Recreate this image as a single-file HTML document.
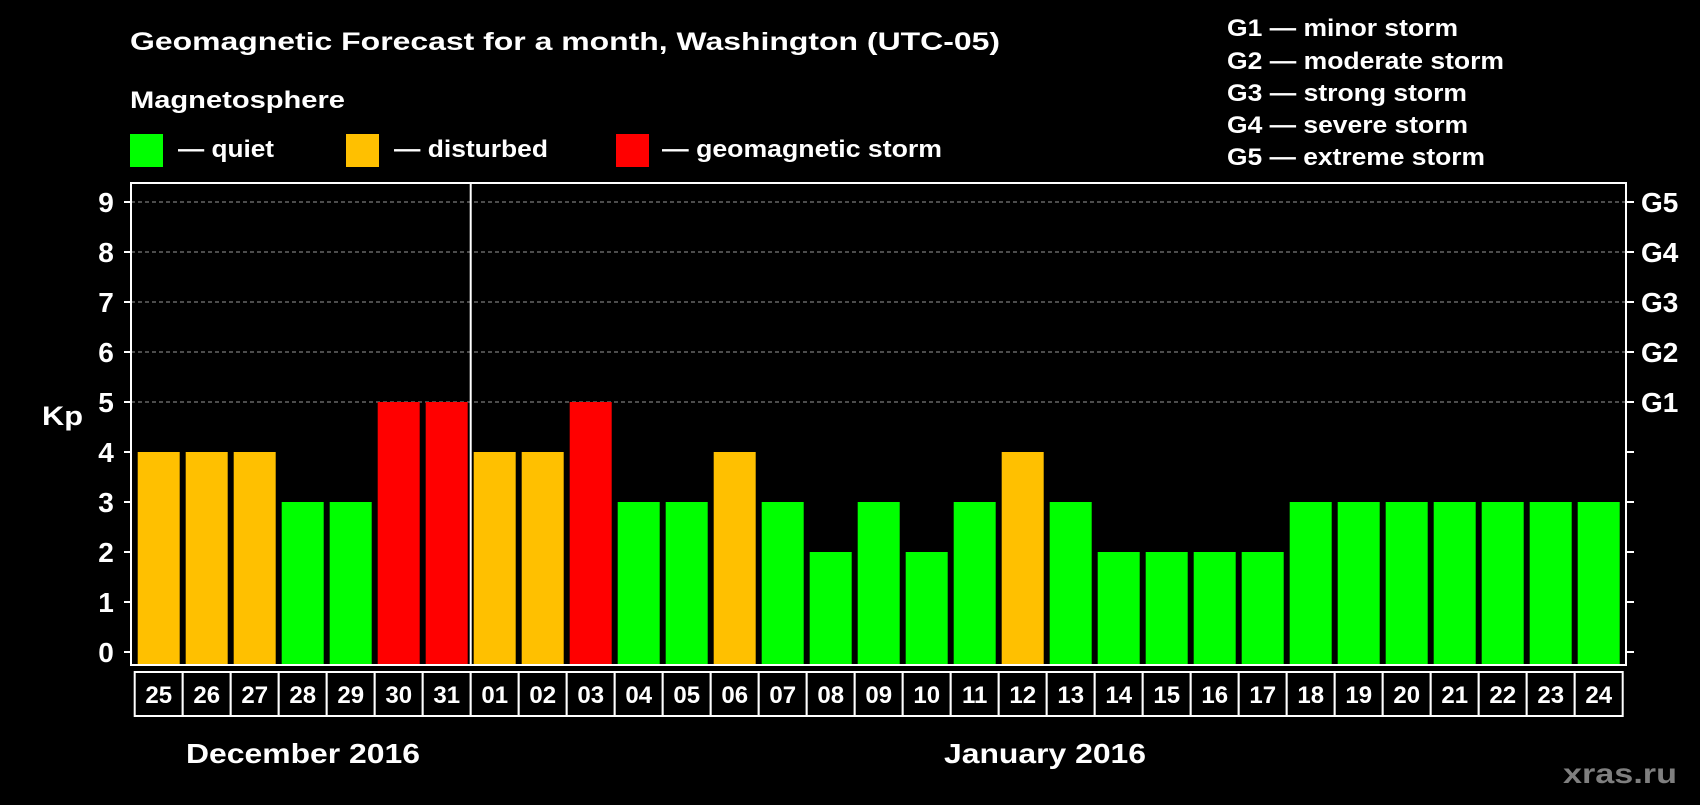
<!DOCTYPE html>
<html><head><meta charset="utf-8"><style>
html,body{margin:0;padding:0;background:#000;}
svg text{font-family:"Liberation Sans",sans-serif;font-weight:bold;fill:#fff;}
</style></head><body>
<svg id="chart" width="1700" height="800" xmlns="http://www.w3.org/2000/svg">
<rect x="0" y="0" width="1700" height="800" fill="#000"/>
<text x="130" y="50" font-size="25" textLength="870" lengthAdjust="spacingAndGlyphs">Geomagnetic Forecast for a month, Washington (UTC-05)</text>
<text x="130" y="108" font-size="24" textLength="215" lengthAdjust="spacingAndGlyphs">Magnetosphere</text>
<g><rect x="130" y="134" width="33" height="33" fill="#00ff00"/><text x="178" y="157" font-size="24" textLength="96" lengthAdjust="spacingAndGlyphs">— quiet</text></g>
<g><rect x="346" y="134" width="33" height="33" fill="#ffc000"/><text x="394" y="157" font-size="24" textLength="154" lengthAdjust="spacingAndGlyphs">— disturbed</text></g>
<g><rect x="616" y="134" width="33" height="33" fill="#ff0000"/><text x="662" y="157" font-size="24" textLength="280" lengthAdjust="spacingAndGlyphs">— geomagnetic storm</text></g>
<g font-size="24">
<text x="1227" y="36" textLength="231" lengthAdjust="spacingAndGlyphs">G1 — minor storm</text>
<text x="1227" y="69" textLength="277" lengthAdjust="spacingAndGlyphs">G2 — moderate storm</text>
<text x="1227" y="101" textLength="240" lengthAdjust="spacingAndGlyphs">G3 — strong storm</text>
<text x="1227" y="133" textLength="241" lengthAdjust="spacingAndGlyphs">G4 — severe storm</text>
<text x="1227" y="165" textLength="258" lengthAdjust="spacingAndGlyphs">G5 — extreme storm</text>
</g>
<g id="grid"></g>
<g id="bars"></g>
<g id="axes"></g>
<text x="42" y="425" font-size="27" textLength="41" lengthAdjust="spacingAndGlyphs">Kp</text>
<text x="186" y="763" font-size="28" textLength="234" lengthAdjust="spacingAndGlyphs">December 2016</text>
<text x="944" y="763" font-size="28" textLength="202" lengthAdjust="spacingAndGlyphs">January 2016</text>
<text x="1563" y="783" font-size="28" textLength="114" lengthAdjust="spacingAndGlyphs" style="fill:#7f7f7f">xras.ru</text>
</svg>
<script>
const days = ["25","26","27","28","29","30","31","01","02","03","04","05","06","07","08","09","10","11","12","13","14","15","16","17","18","19","20","21","22","23","24"];
const kp = [4,4,4,3,3,5,5,4,4,5,3,3,4,3,2,3,2,3,4,3,2,2,2,2,3,3,3,3,3,3,3];
const yTicks = [0,1,2,3,4,5,6,7,8,9];
const gLabels = ["G1","G2","G3","G4","G5"];
const gLevels = [5,6,7,8,9];

const NS="http://www.w3.org/2000/svg";
const pL=131,pR=1626,pT=183,pB=665;
const yBase=652,unit=50;
const xStart=134.7,pitch=48;
function yS(v){return yBase-v*unit;}
function xc(i){return xStart+pitch*i+pitch/2;}
function mk(tag,attrs,parent){const e=document.createElementNS(NS,tag);for(const k in attrs)e.setAttribute(k,attrs[k]);parent.appendChild(e);return e;}
function color(v){return v>=5?"#ff0000":(v>=4?"#ffc000":"#00ff00");}
const gridG=document.getElementById("grid"),barsG=document.getElementById("bars"),axesG=document.getElementById("axes");

gLevels.forEach((v)=>{
  const l=mk("line",{x1:pL,x2:pR,y1:yS(v),y2:yS(v),stroke:"#999","stroke-width":1,"stroke-dasharray":"4,3"},gridG);
  
  
});
kp.forEach((v,i)=>{
  const r=mk("rect",{x:xc(i)-21,y:yS(v),width:42,height:pB-yS(v),fill:color(v)},barsG);
  
  
});
const fr=mk("rect",{x:pL,y:pT,width:pR-pL,height:pB-pT,fill:"none",stroke:"#fff","stroke-width":2},axesG);


const sep=mk("line",{x1:xc(6)+pitch/2,x2:xc(6)+pitch/2,y1:pT,y2:pB,stroke:"#fff","stroke-width":2},axesG);


yTicks.forEach((v)=>{
  mk("line",{x1:pL-7,x2:pL,y1:yS(v),y2:yS(v),stroke:"#fff","stroke-width":2},axesG);
  mk("line",{x1:pR,x2:pR+8,y1:yS(v),y2:yS(v),stroke:"#fff","stroke-width":2},axesG);
  const t=mk("text",{x:106,y:yS(v)+10,"font-size":28,"text-anchor":"middle"},axesG);
  t.textContent=v;
  
  
});
gLabels.forEach((g,i)=>{
  const t=mk("text",{x:1641,y:yS(gLevels[i])+10,"font-size":28},axesG);
  t.textContent=g;
  
  
});
days.forEach((d,i)=>{
  const b=mk("rect",{x:xc(i)-pitch/2,y:672,width:pitch,height:44,fill:"#000",stroke:"#fff","stroke-width":2},axesG);
  
  
  const t=mk("text",{x:xc(i),y:703,"font-size":24,"text-anchor":"middle"},axesG);
  t.textContent=d;
  
  
});
</script>
</body></html>
